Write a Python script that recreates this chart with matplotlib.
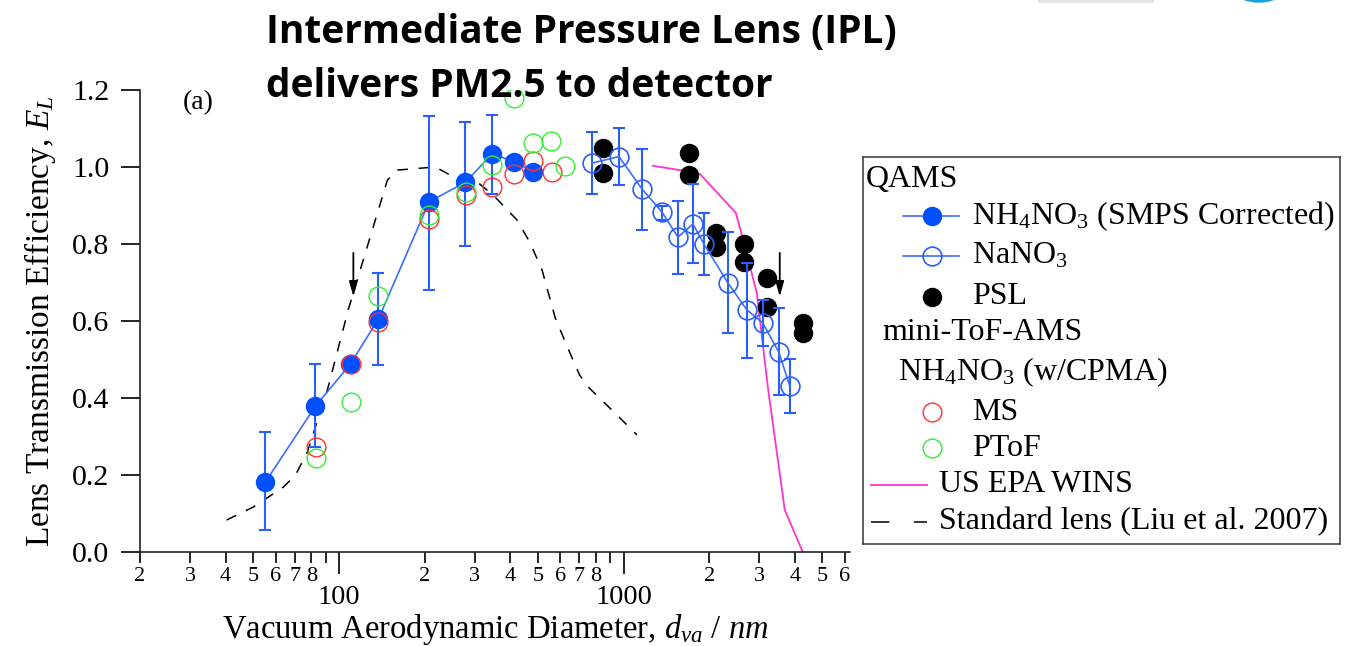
import numpy as np
import matplotlib.pyplot as plt
from matplotlib.patches import Rectangle, Ellipse

plt.rcParams['font.family'] = ['Liberation Serif', 'DejaVu Serif']
plt.rcParams['mathtext.fontset'] = 'custom'
plt.rcParams['mathtext.rm'] = 'Liberation Serif'
plt.rcParams['mathtext.it'] = 'Liberation Serif:italic'

# QAMS NH4NO3 (SMPS corrected)
nh4_d = [55.2, 82.7, 109.7, 137.6, 207.7, 277.9, 345.7, 412.9, 481.4]
nh4_e = [0.182, 0.379, 0.488, 0.605, 0.910, 0.960, 1.034, 1.014, 0.986]
nh4_lo = [0.057, 0.273, np.nan, 0.486, 0.680, 0.795, 0.930, np.nan, np.nan]
nh4_hi = [0.312, 0.488, np.nan, 0.725, 1.132, 1.118, 1.135, np.nan, np.nan]

# QAMS NaNO3
na_d = [775, 964, 1161, 1365, 1553, 1754, 1916, 2327, 2712, 3085, 3514, 3840]
na_e = [1.010, 1.027, 0.943, 0.883, 0.818, 0.852, 0.800, 0.699, 0.629, 0.595, 0.519, 0.431]
na_lo = [0.930, 0.953, 0.836, 0.862, 0.722, 0.751, 0.719, 0.569, 0.504, 0.535, 0.408, 0.361]
na_hi = [1.091, 1.101, 1.047, 0.899, 0.912, 0.956, 0.881, 0.831, 0.751, 0.655, 0.634, 0.501]

# QAMS PSL
psl_d = [847, 847, 1698, 1698, 2113, 2113, 2651, 2651, 3190, 3190, 4265, 4265]
psl_e = [1.049, 0.984, 1.036, 0.979, 0.829, 0.792, 0.800, 0.753, 0.712, 0.636, 0.595, 0.569]

# mini-ToF-AMS NH4NO3 (w/CPMA)
ms_d = [83.4, 110.6, 137.6, 207.7, 280, 345.7, 412.9, 481.4, 561]
ms_e = [0.273, 0.488, 0.598, 0.864, 0.926, 0.948, 0.982, 1.016, 0.988]
ptof_d = [83.4, 110.6, 137.6, 207.7, 280, 345.7, 412.9, 481.4, 556.7, 623]
ptof_e = [0.243, 0.390, 0.665, 0.876, 0.934, 1.005, 1.178, 1.063, 1.068, 1.003]

# US EPA WINS
wins_d = [1269, 1578, 1855, 2481, 2605, 2940, 3214, 3687, 4265]
wins_e = [1.003, 0.992, 0.982, 0.881, 0.823, 0.673, 0.429, 0.109, 0.0]

# Standard lens (Liu et al. 2007)
std_d = [40.3, 50.1, 63.9, 70.4, 77.5, 91.1, 108, 148, 160.4, 218.1, 246.2, 306.2,
         348.4, 423, 469.8, 517.6, 575.6, 646.6, 700.6, 750.5, 948, 1115]
std_e = [0.083, 0.117, 0.169, 0.200, 0.260, 0.421, 0.631, 0.966, 0.992, 1.000, 0.979, 0.961,
         0.927, 0.862, 0.803, 0.732, 0.608, 0.519, 0.460, 0.429, 0.356, 0.304]

# cut-off arrows
arrow_d = [112.4, 3540]
arrow_top = 0.777
arrow_tip = 0.663

minor_pos = [20, 30, 40, 50, 60, 70, 80, 90,
             200, 300, 400, 500, 600, 700, 800, 900,
             2000, 3000, 4000, 5000, 6000]
minor_lbl = ['2', '3', '4', '5', '6', '7', '8', '',
             '2', '3', '4', '5', '6', '7', '8', '',
             '2', '3', '4', '5', '6']

blue = '#0050ff'
eblue = '#2a5fff'

fig = plt.figure(figsize=(13.65, 6.46), dpi=100)
ax = fig.add_axes([140/1365, 94/646, 710/1365, 462/646])

ax.plot(std_d, std_e, color='black', lw=1.1, dashes=(7, 7), zorder=2)
ax.plot(wins_d, wins_e, color='#ff33cc', lw=1.3, zorder=2)
ax.plot(psl_d, psl_e, 'o', color='black', ms=14, mew=0, zorder=3)

nh4_y = np.array(nh4_e)
ax.errorbar(nh4_d, nh4_e, yerr=[nh4_y - np.array(nh4_lo), np.array(nh4_hi) - nh4_y],
            fmt='none', ecolor=eblue, elinewidth=1.5, capsize=4.5, capthick=1.5, zorder=4)
ax.plot(nh4_d, nh4_e, '-o', color='#3a6fff', lw=1.2, ms=14, mfc=blue, mec=blue, mew=0, zorder=4)

na_y = np.array(na_e)
ax.errorbar(na_d, na_e, yerr=[na_y - np.array(na_lo), np.array(na_hi) - na_y],
            fmt='none', ecolor=eblue, elinewidth=1.5, capsize=4.5, capthick=1.5, zorder=5)
ax.plot(na_d, na_e, '-o', color='#3a6fff', lw=1.2, ms=13.5, mfc='none', mec=eblue, mew=1.2, zorder=5)

ax.plot(ms_d, ms_e, 'o', ms=13.5, mfc='none', mec='#ff3030', mew=1.0, zorder=6)
ax.plot(ptof_d, ptof_e, 'o', ms=13.5, mfc='none', mec='#33ee33', mew=1.0, zorder=6)

for xd in arrow_d:
    ax.annotate('', xy=(xd, arrow_tip), xytext=(xd, arrow_top),
                arrowprops=dict(arrowstyle='-|>,head_length=0.9,head_width=0.25',
                                color='black', lw=1.3, shrinkA=0, shrinkB=0), zorder=7)

ax.text(31.9, 1.166, '(a)', fontsize=20, ha='center', va='center')

ax.set_xscale('log')
ax.set_xlim(20, 6250)
ax.set_ylim(0, 1.2)
ax.set_yticks([0.0, 0.2, 0.4, 0.6, 0.8, 1.0, 1.2])
ax.set_yticklabels(['0.0', '0.2', '0.4', '0.6', '0.8', '1.0', '1.2'])
ax.set_xticks([100, 1000])
ax.set_xticklabels(['100', '1000'])
ax.set_xticks(minor_pos, minor_lbl, minor=True)
ax.tick_params(axis='y', direction='out', length=14, width=1.2, labelsize=21.5, pad=8)
ax.tick_params(axis='x', which='major', direction='out', length=16, width=1.2, labelsize=20.5, pad=8)
ax.tick_params(axis='x', which='minor', direction='out', length=8, width=1.2, labelsize=16, pad=3)
for s in ['top', 'right']:
    ax.spines[s].set_visible(False)
for s in ['left', 'bottom']:
    ax.spines[s].set_linewidth(1.2)
    ax.spines[s].set_color('#222222')

ax.set_xlabel(r'Vacuum Aerodynamic Diameter, $d_{va}$ / $nm$', fontsize=23.5, labelpad=1)
ax.set_ylabel(r'Lens Transmission Efficiency, $E_L$', fontsize=24, labelpad=10)

# legend box, drawn in pixel units of the picture
lax = fig.add_axes([863/1365, (646-544)/646, 477/1365, 387/646])
lax.set_xlim(863, 1340)
lax.set_ylim(544, 157)
lax.set_xticks([])
lax.set_yticks([])
for s in lax.spines.values():
    s.set_color('#444444')
    s.set_linewidth(1.2)
fs = 23
lax.text(866, 180, 'QAMS', fontsize=fs, va='center')
lax.plot([903, 959], [216, 216], color='#3a6fff', lw=1.2)
lax.plot([932], [216], 'o', ms=14, mfc=blue, mec=blue, mew=0)
lax.text(972, 216, r'NH$_4$NO$_3$ (SMPS Corrected)', fontsize=fs, va='center')
lax.plot([903, 959], [256, 256], color='#3a6fff', lw=1.2)
lax.plot([932], [256], 'o', ms=13.5, mfc='none', mec=eblue, mew=1.2)
lax.text(972, 256, r'NaNO$_3$', fontsize=fs, va='center')
lax.plot([932], [297], 'o', ms=14, color='black', mew=0)
lax.text(972, 297, 'PSL', fontsize=fs, va='center')
lax.text(882, 333, 'mini-ToF-AMS', fontsize=fs, va='center')
lax.text(898, 372, r'NH$_4$NO$_3$ (w/CPMA)', fontsize=fs, va='center')
lax.plot([932], [412], 'o', ms=13.5, mfc='none', mec='#ff3030', mew=1.0)
lax.text(972, 412, 'MS', fontsize=fs, va='center')
lax.plot([932], [448], 'o', ms=13.5, mfc='none', mec='#33ee33', mew=1.0)
lax.text(972, 448, 'PToF', fontsize=fs, va='center')
lax.plot([871, 927], [485, 485], color='#ff33cc', lw=1.3)
lax.text(939, 485, 'US EPA WINS', fontsize=fs, va='center')
lax.plot([871, 927], [522, 522], color='black', lw=1.1, dashes=(12, 16))
lax.text(939, 522, 'Standard lens (Liu et al. 2007)', fontsize=fs, va='center')

# slide title
fig.text(266/1365, 1 - 43/646, 'Intermediate Pressure Lens (IPL)', fontsize=28,
         fontweight='bold', family=['Open Sans', 'DejaVu Sans'], va='baseline', ha='left')
fig.text(266/1365, 1 - 97/646, 'delivers PM2.5 to detector', fontsize=28,
         fontweight='bold', family=['Open Sans', 'DejaVu Sans'], va='baseline', ha='left')

# bits of slide decoration at the top edge
fig.patches.append(Rectangle((1038/1365, 1 - 2/646), 115/1365, 2/646, transform=fig.transFigure,
                             color='#e6e6e6', zorder=0))
fig.patches.append(Ellipse((1259/1365, 1 + 6/646), 40/1365, 16/646, transform=fig.transFigure,
                           color='#18a0dc', zorder=0))

fig.savefig('out.png', dpi=100)
